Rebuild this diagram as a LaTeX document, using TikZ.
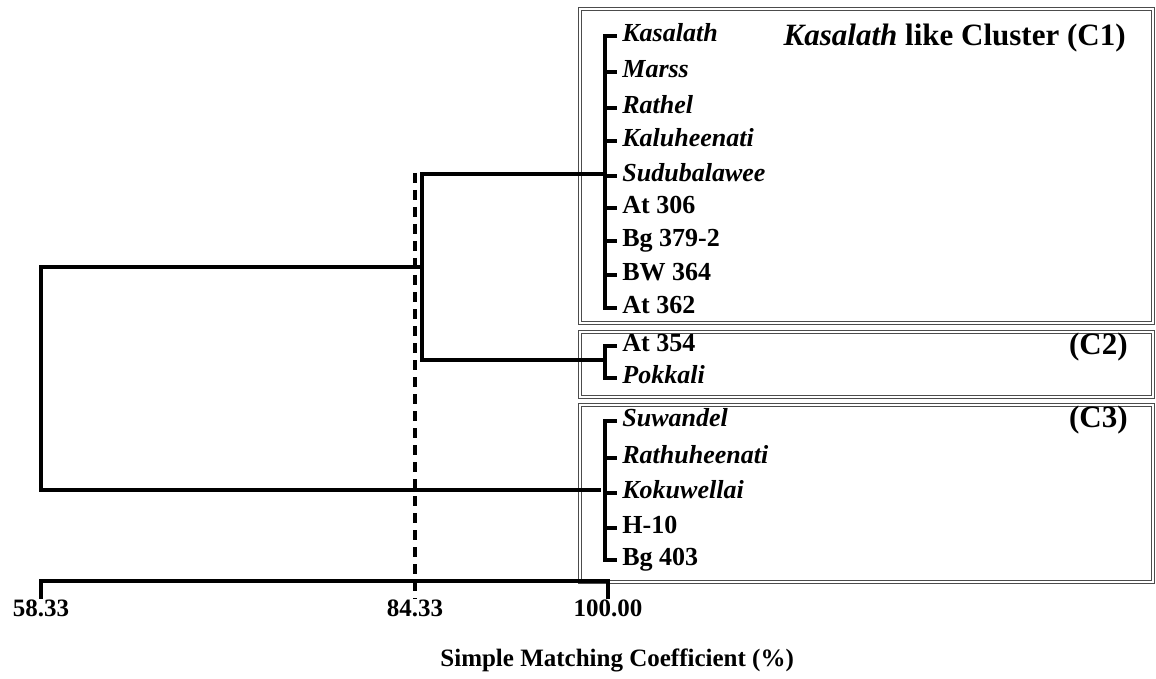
\documentclass[tikz,border=0pt]{standalone}
\usepackage{fontspec}
\setmainfont{Liberation Serif}
\begin{document}
\begin{tikzpicture}[x=0.5pt,y=-0.5pt,
  leaf/.style={anchor=west, inner xsep=2.5pt, inner ysep=0pt, text height=1.5ex, text depth=0.2ex, font=\fontsize{13}{15}\selectfont\bfseries},
  tree/.style={line width=1.6pt},
  cutline/.style={line width=1.7pt, dash pattern=on 5pt off 3.5pt},
  clusterbox/.style={draw=black!70, double, double distance=1.3pt, line width=0.55pt},
  tag/.style={font=\fontsize{15.5}{18}\selectfont\bfseries, inner sep=0pt},
  scalelabel/.style={font=\fontsize{12.5}{14}\selectfont\bfseries, inner sep=0pt}]
\useasboundingbox (0,0) rectangle (1156,679);

% cluster boxes
\draw[clusterbox] (580,9) rectangle (1153,323);
\draw[clusterbox] (580,332) rectangle (1153,397);
\draw[clusterbox] (580,405) rectangle (1153,582);

% leaves
\foreach \n/\y/\t in {k1/36/\textit{Kasalath}, k2/72/\textit{Marss}, k3/108/\textit{Rathel},
  k4/141/\textit{Kaluheenati}, k5/176/\textit{Sudubalawee}, k6/208/At 306, k7/241/Bg 379-2,
  k8/275/BW 364, k9/308/At 362, p1/346/At 354, p2/378/\textit{Pokkali},
  s1/421/\textit{Suwandel}, s2/458/\textit{Rathuheenati}, s3/493/\textit{Kokuwellai},
  s4/528/H-10, s5/560/Bg 403}
  \node[leaf] (\n) at (617,\y) {\t};

\node[tag, anchor=east] (c1tag) at (1126,38) {\textit{Kasalath} like Cluster (C1)};
\node[tag, anchor=east] (c2tag) at (1128,347) {(C2)};
\node[tag, anchor=east] (c3tag) at (1128,420) {(C3)};

% brackets
\coordinate (bar) at (605,0);
\draw[tree] (k1.west) -- (bar |- k1.west) -- (bar |- k9.west) -- (k9.west);
\foreach \n in {k2,k3,k4,k5,k6,k7,k8}
  \draw[tree] (bar |- \n.west) -- (\n.west);
\draw[tree] (p1.west) -- (bar |- p1.west) -- (bar |- p2.west) -- (p2.west);
\draw[tree] (s1.west) -- (bar |- s1.west) -- (bar |- s5.west) -- (s5.west);
\foreach \n in {s2,s3,s4}
  \draw[tree] (bar |- \n.west) -- (\n.west);

% joins
\coordinate (c1j) at (605,174);
\coordinate (c2j) at (605,360);
\coordinate (c3j) at (601,490);
\coordinate (sub) at (422,267);
\coordinate (root) at (41,267);
\draw[tree] (c1j) -- (c1j -| sub) -- (c2j -| sub) -- (c2j);
\draw[tree] (sub) -- (root) -- (root |- c3j) -- (c3j);

% scale
\coordinate (a0) at (41,581);
\coordinate (a1) at (608,581);
\node[scalelabel] (v58) at (41,608) {58.33};
\node[scalelabel] (v84) at (415,608) {84.33};
\node[scalelabel] (v100) at (608,608) {100.00};
\draw[tree] (a0 |- v58.north) -- (a0) -- (a1) -- (a1 |- v100.north);
\coordinate (cut) at (415,173);
\draw[cutline] (cut) -- (v84.north);

\node[scalelabel, anchor=west, font=\fontsize{12.5}{14}\selectfont\bfseries] (xlab) at (440,660) {Simple Matching Coefficient (\%)};
\end{tikzpicture}
\end{document}
